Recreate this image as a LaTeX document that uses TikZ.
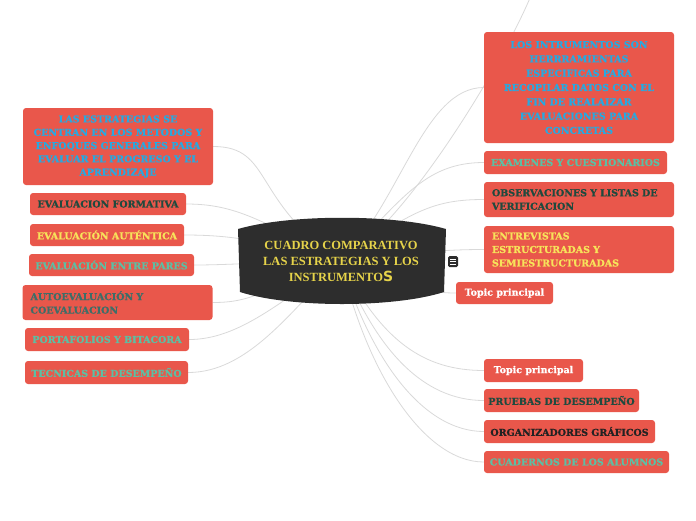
\documentclass[tikz,border=0pt]{standalone}
\usepackage{fontspec}
\setmainfont{DejaVu Serif Bold}[FakeBold=0.8]
\newfontfamily\titlefont{Liberation Serif Bold}
\newfontfamily\bigsfont{DejaVu Sans Bold}
\usetikzlibrary{backgrounds}
\definecolor{nodered}{HTML}{E9574B}
\definecolor{mainfill}{HTML}{2D2D2D}
\definecolor{maintext}{HTML}{E6D34A}
\definecolor{linegrey}{HTML}{D9D9D9}
\definecolor{txtblue}{HTML}{27A9E1}
\definecolor{txtgreen}{HTML}{1F4A3E}
\definecolor{txtyellow}{HTML}{F7E35A}
\definecolor{txtteal}{HTML}{5CBFA4}
\definecolor{autoteal}{HTML}{3C6E68}
\definecolor{txtdark}{HTML}{222222}

\begin{document}
\begin{tikzpicture}[x=1pt,y=-1pt,
  box/.style={fill=nodered, rounded corners=3pt, inner sep=0pt, align=center,
    font=\fontsize{9.5}{13.5}\selectfont},
  leftbox/.style={box, inner xsep=8pt, text width=174pt, align=left},
  conn/.style={draw=linegrey, line width=0.8pt}]
\useasboundingbox (0,0) rectangle (696,520);

% central topic
\fill[mainfill] (238,229) .. controls (290,214) and (394,214) .. (446,229)
  -- (444,292) .. controls (394,308) and (290,308) .. (240,292) -- cycle;
\node[text=maintext, align=center, font=\titlefont\fontsize{12.5}{16}\selectfont]
  (main) at (341,261) {CUADRO COMPARATIVO\\LAS ESTRATEGIAS Y LOS\\INSTRUMENTO{\bigsfont\fontsize{14}{16}\selectfont S}};
\node[fill=mainfill, rounded corners=1.5pt, minimum width=10pt, minimum height=11pt, inner sep=0pt]
  (menu) at (453,261.5) {};
\foreach \d in {-2.5,0,2.5}
  \draw[white, line width=0.7pt] ([xshift=-3pt,yshift=\d pt]menu.center) -- ++(6,0);

% estrategias
\node[box, text=txtblue, minimum width=190pt, minimum height=77pt, font=\fontsize{9.5}{13.3}\selectfont] (l1) at (118,146.5)
  {LAS ESTRATEGIAS SE\\CENTRAN EN LOS METODOS Y\\ENFOQUES GENERALES PARA\\EVALUAR EL PROGRESO Y EL\\APRENDIZAJE};
\node[box, text=txtgreen, minimum width=156pt, minimum height=22pt] (l2) at (108,204) {EVALUACION FORMATIVA};
\node[box, text=txtyellow, minimum width=154pt, minimum height=22pt] (l3) at (107,235) {EVALUACIÓN AUTÉNTICA};
\node[box, text=txtteal, minimum width=165pt, minimum height=22pt] (l4) at (111.5,265) {EVALUACIÓN ENTRE PARES};
\node[leftbox, text=autoteal, minimum height=35pt] (l5) at (117.5,302.5) {AUTOEVALUACIÓN Y\\COEVALUACION};
\node[box, text=txtteal, minimum width=164pt, minimum height=23pt] (l6) at (107,339.5) {PORTAFOLIOS Y BITACORA};
\node[box, text=txtteal, minimum width=163pt, minimum height=23pt] (l7) at (106.5,372.5) {TECNICAS DE DESEMPEÑO};

% instrumentos
\node[box, text=txtblue, minimum width=190pt, minimum height=111pt, font=\fontsize{9.5}{14.3}\selectfont] (r1) at (579,87.5)
  {LOS INTRUMENTOS SON\\HERRRAMIENTAS\\ESPECIFICAS PARA\\RECOPILAR DATOS CON EL\\FIN DE REALAIZAR\\EVALUACIONES PARA\\CONCRETAS};
\node[box, text=txtteal, minimum width=183pt, minimum height=23pt] (r2) at (575.5,162.5) {EXAMENES Y CUESTIONARIOS};
\node[leftbox, text=txtgreen, minimum height=35pt] (r3) at (579,199.5) {OBSERVACIONES Y LISTAS DE\\VERIFICACION};
\node[leftbox, text=txtyellow, minimum height=47pt] (r4) at (579,249.5) {ENTREVISTAS\\ESTRUCTURADAS Y\\SEMIESTRUCTURADAS};
\node[box, text=white, minimum width=97pt, minimum height=22pt] (r5) at (504.5,293) {Topic principal};
\node[box, text=white, minimum width=99pt, minimum height=23pt] (r6) at (533.5,370.5) {Topic principal};
\node[box, text=txtgreen, minimum width=155pt, minimum height=23pt] (r7) at (561.5,400.5) {PRUEBAS DE DESEMPEÑO};
\node[box, text=txtdark, minimum width=171pt, minimum height=23pt] (r8) at (569.5,431.5) {ORGANIZADORES GRÁFICOS};
\node[box, text=txtteal, minimum width=185pt, minimum height=22pt] (r9) at (576.5,462) {CUADERNOS DE LOS ALUMNOS};
\coordinate (up) at (537,-20);

\begin{pgfonlayer}{background}
\draw[conn] (main.center) .. controls +(-90,-60) and +(60,0) .. (l1.east);
\draw[conn] (main.center) .. controls +(-80,-40) and +(50,0) .. (l2.east);
\draw[conn] (main.center) .. controls +(-80,-20) and +(50,0) .. (l3.east);
\draw[conn] (main.center) .. controls +(-60,0) and +(40,0) .. (l4.east);
\draw[conn] (main.center) .. controls +(-80,30) and +(40,0) .. (l5.east);
\draw[conn] (main.center) .. controls +(-60,40) and +(50,0) .. (l6.east);
\draw[conn] (main.center) .. controls +(-50,50) and +(60,0) .. (l7.east);
\draw[conn] (main.center) .. controls +(60,-60) and +(-60,0) .. (r1.west);
\draw[conn] (main.center) .. controls +(70,-40) and +(-20,60) .. (up);
\draw[conn] (main.center) .. controls +(60,-60) and +(-60,0) .. (r2.west);
\draw[conn] (main.center) .. controls +(70,-50) and +(-50,0) .. (r3.west);
\draw[conn] (main.center) .. controls +(80,-10) and +(-30,0) .. (r4.west);
\draw[conn] (main.center) .. controls +(80,30) and +(-20,0) .. (r5.west);
\draw[conn] (main.center) .. controls +(40,80) and +(-60,0) .. (r6.west);
\draw[conn] (main.center) .. controls +(35,90) and +(-60,0) .. (r7.west);
\draw[conn] (main.center) .. controls +(30,100) and +(-60,0) .. (r8.west);
\draw[conn] (main.center) .. controls +(25,110) and +(-60,0) .. (r9.west);
\end{pgfonlayer}
\end{tikzpicture}
\end{document}
